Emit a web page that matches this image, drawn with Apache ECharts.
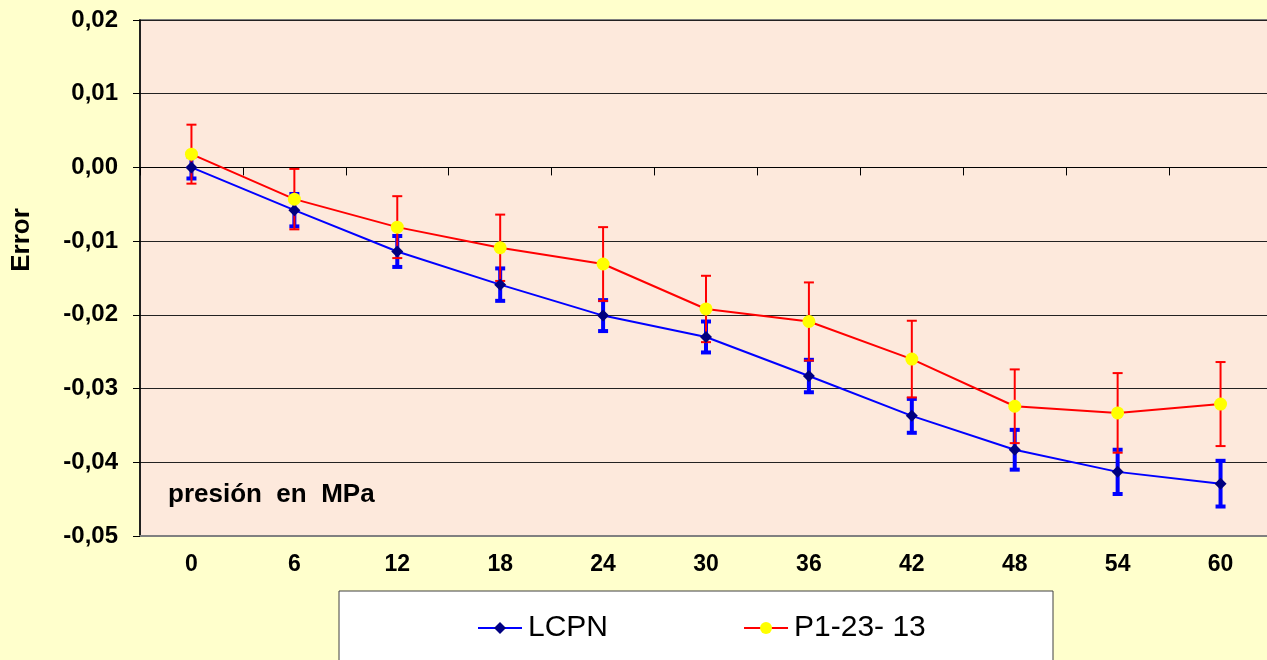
<!DOCTYPE html>
<html>
<head>
<meta charset="utf-8">
<script src="https://cdn.jsdelivr.net/npm/echarts@6/dist/echarts.min.js"></script>
<style>
html,body{margin:0;padding:0;background:#FFFFCC;overflow:hidden;}
#chart{width:1280px;height:660px;}
</style>
</head>
<body>
<div id="chart"></div>
<script>
const categories = ['0','6','12','18','24','30','36','42','48','54','60'];
const lcpnValues = [0.0000,-0.0058,-0.0114,-0.0159,-0.0201,-0.0230,-0.0283,-0.0337,-0.0383,-0.0413,-0.0429];
const lcpnErrors = [0.0015,0.0022,0.0021,0.0022,0.0021,0.0021,0.0022,0.0023,0.0027,0.0030,0.0031];
const p1Values = [0.0018,-0.0043,-0.0081,-0.0109,-0.0131,-0.0192,-0.0209,-0.0260,-0.0324,-0.0333,-0.0321];
const p1Errors = [0.0040,0.0041,0.0042,0.0045,0.0050,0.0045,0.0053,0.0052,0.0050,0.0054,0.0057];
const seriesNames = ['LCPN','P1-23- 13'];
const yTicks = {min:-0.05, max:0.02, interval:0.01};

function errData(vals, errs){
  return vals.map((v,i)=>[i, v-errs[i], v+errs[i]]);
}
function errRender(color, lw, capW){
  return function(params, api){
    const x = api.value(0);
    const lo = api.coord([x, api.value(1)]);
    const hi = api.coord([x, api.value(2)]);
    const style = {stroke: color, lineWidth: lw, fill: null};
    return {type:'group', children:[
      {type:'line', shape:{x1:lo[0], y1:lo[1], x2:hi[0], y2:hi[1]}, style},
      {type:'line', shape:{x1:lo[0]-capW/2, y1:lo[1], x2:lo[0]+capW/2, y2:lo[1]}, style},
      {type:'line', shape:{x1:hi[0]-capW/2, y1:hi[1], x2:hi[0]+capW/2, y2:hi[1]}, style}
    ]};
  };
}

const chart = echarts.init(document.getElementById('chart'), null, {renderer:'canvas'});
const option = {
  backgroundColor:'#FFFFCC',
  animation:false,
  grid:{left:140, top:20, width:1132, height:516, show:true, backgroundColor:'#FDE9DC', borderColor:'#808080', borderWidth:2},
  xAxis:[
    {type:'category', data:categories, position:'bottom', boundaryGap:true,
     axisLine:{show:true, onZero:false, lineStyle:{color:'#808080', width:2}},
     axisTick:{show:false},
     axisLabel:{fontFamily:'Liberation Sans', fontWeight:'bold', fontSize:23, color:'#000', margin:17},
     splitLine:{show:false}},
    {type:'category', data:categories, position:'top', boundaryGap:true,
     axisLine:{show:true, onZero:true, lineStyle:{color:'#000', width:1}},
     axisTick:{show:true, inside:true, length:8, lineStyle:{color:'#000'}},
     axisLabel:{show:false}, splitLine:{show:false}}
  ],
  yAxis:{type:'value', min:yTicks.min, max:yTicks.max, interval:yTicks.interval,
     axisLine:{show:true, lineStyle:{color:'#000', width:1.5}},
     axisTick:{show:true, length:7, lineStyle:{color:'#000'}},
     axisLabel:{fontFamily:'Liberation Sans', fontWeight:'bold', fontSize:24, color:'#000', margin:22,
       formatter:v=>{let s=v.toFixed(2); if(s==='-0.00') s='0.00'; return s.replace('.',',');}},
     splitLine:{show:true, lineStyle:{color:'#222', width:1}}},
  legend:{show:true, left:472, top:608, itemWidth:44, itemHeight:15, itemGap:135,
     data:seriesNames,
     textStyle:{fontFamily:'Liberation Sans', fontSize:30, color:'#000', padding:[0,0,0,1]}},
  graphic:[
    {type:'rect', z:-1, shape:{x:339, y:591, width:714, height:80}, style:{fill:'#FFFFFF', stroke:'#404040', lineWidth:1}},
    {type:'text', left:168, top:482, style:{text:'presión  en  MPa', font:'bold 26px "Liberation Sans"', fill:'#000'}},
    {type:'text', x:22, y:240, rotation:Math.PI/2, style:{text:'Error', font:'bold 26px "Liberation Sans"', fill:'#000', align:'center', verticalAlign:'middle'}}
  ],
  series:[
    {type:'custom', name:'errLCPN', xAxisIndex:0, data:errData(lcpnValues,lcpnErrors), encode:{x:0,y:[1,2]}, renderItem:errRender('#0000FF',4,10), z:2, silent:true},
    {type:'custom', name:'errP1', xAxisIndex:0, data:errData(p1Values,p1Errors), encode:{x:0,y:[1,2]}, renderItem:errRender('#FF0000',2,10), z:3, silent:true},
    {type:'line', name:seriesNames[0], xAxisIndex:0, data:lcpnValues, symbol:'diamond', symbolSize:12,
     itemStyle:{color:'#000080'}, lineStyle:{color:'#0000FF', width:2}, z:4},
    {type:'line', name:seriesNames[1], xAxisIndex:0, data:p1Values, symbol:'circle', symbolSize:13,
     itemStyle:{color:'#FFFF00'}, lineStyle:{color:'#FF0000', width:2}, z:5}
  ]
};
chart.setOption(option);
</script>
</body>
</html>
